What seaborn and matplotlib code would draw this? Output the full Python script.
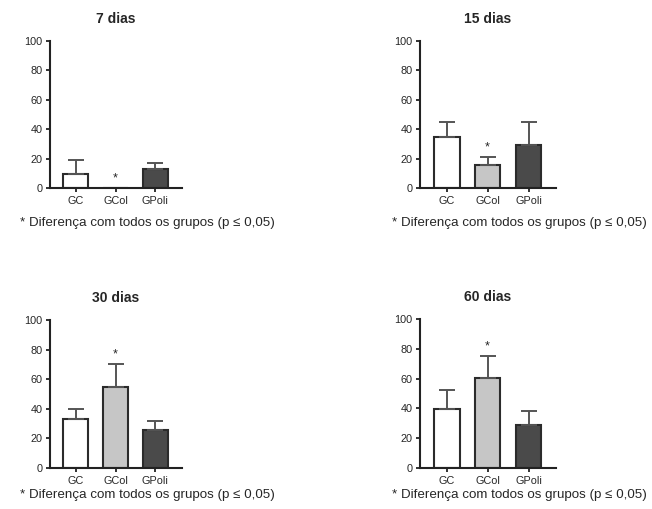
import matplotlib
matplotlib.use("Agg")
import matplotlib.pyplot as plt
import seaborn as sns
import pandas as pd

grupos = ["GC", "GCol", "GPoli"]
titulos = ["7 dias", "15 dias", "30 dias", "60 dias"]

media_7 = [9.5, 0.0, 13.0]
erro_7 = [9.5, 0.0, 4.0]
media_15 = [34.5, 15.5, 29.0]
erro_15 = [10.5, 5.5, 16.0]
media_30 = [33.0, 55.0, 25.5]
erro_30 = [7.0, 15.0, 6.5]
media_60 = [39.5, 60.5, 29.0]
erro_60 = [13.0, 14.5, 9.0]

# grupo marcado com asterisco (diferença significativa)
grupo_sig = "GCol"
nota = "* Diferença com todos os grupos (p \u2264 0,05)"

cores = ["#ffffff", "#c6c6c6", "#4a4a4a"]
medias = [media_7, media_15, media_30, media_60]
erros = [erro_7, erro_15, erro_30, erro_60]

sns.set_style("ticks")
plt.rcParams['font.family'] = ['Liberation Sans', 'DejaVu Sans']

fig = plt.figure(figsize=(6.52, 5.09), dpi=100)
# [left, bottom, width, height] em fração da figura
posicoes = [
    [0.0767, 0.6306, 0.2025, 0.2888],
    [0.6442, 0.6306, 0.2085, 0.2888],
    [0.0767, 0.0806, 0.2025, 0.2908],
    [0.6442, 0.0806, 0.2085, 0.2928],
]
notas_xy = [(0.031, 0.562), (0.601, 0.562), (0.031, 0.027), (0.601, 0.028)]

for pos, titulo, med, err, nxy in zip(posicoes, titulos, medias, erros, notas_xy):
    ax = fig.add_axes(pos)
    df = pd.DataFrame({"grupo": grupos, "valor": med})
    sns.barplot(data=df, x="grupo", y="valor", hue="grupo", palette=cores,
                width=0.63, edgecolor="#2b2b2b", linewidth=1.5,
                legend=False, ax=ax)
    xs = [p.get_x() + p.get_width() / 2 for p in ax.patches]
    ax.errorbar(xs, med, yerr=[[0] * len(err), err], fmt="none",
                ecolor="#555555", elinewidth=1.4, capsize=5.5, capthick=1.4,
                zorder=1)
    i = grupos.index(grupo_sig)
    ax.text(xs[i], med[i] + err[i] + 2.5, "*", ha="center", va="bottom",
            fontsize=9)
    ax.set_ylim(0, 100)
    ax.set_xlim(-0.65, 2.67)
    ax.set_yticks([0, 20, 40, 60, 80, 100])
    ax.set_xlabel("")
    ax.set_ylabel("")
    ax.set_title(titulo, fontsize=10, fontweight="bold", pad=13)
    sns.despine(ax=ax)
    for s in ["left", "bottom"]:
        ax.spines[s].set_linewidth(1.5)
        ax.spines[s].set_color("#222222")
    ax.tick_params(axis="both", labelsize=7.8, length=3, width=1.3,
                   color="#222222")
    ax.tick_params(axis="y", pad=2.5)
    ax.tick_params(axis="x", pad=2.5)
    fig.text(nxy[0], nxy[1], nota, fontsize=9.6, va="center", ha="left")

fig.savefig("out.png", dpi=100)
